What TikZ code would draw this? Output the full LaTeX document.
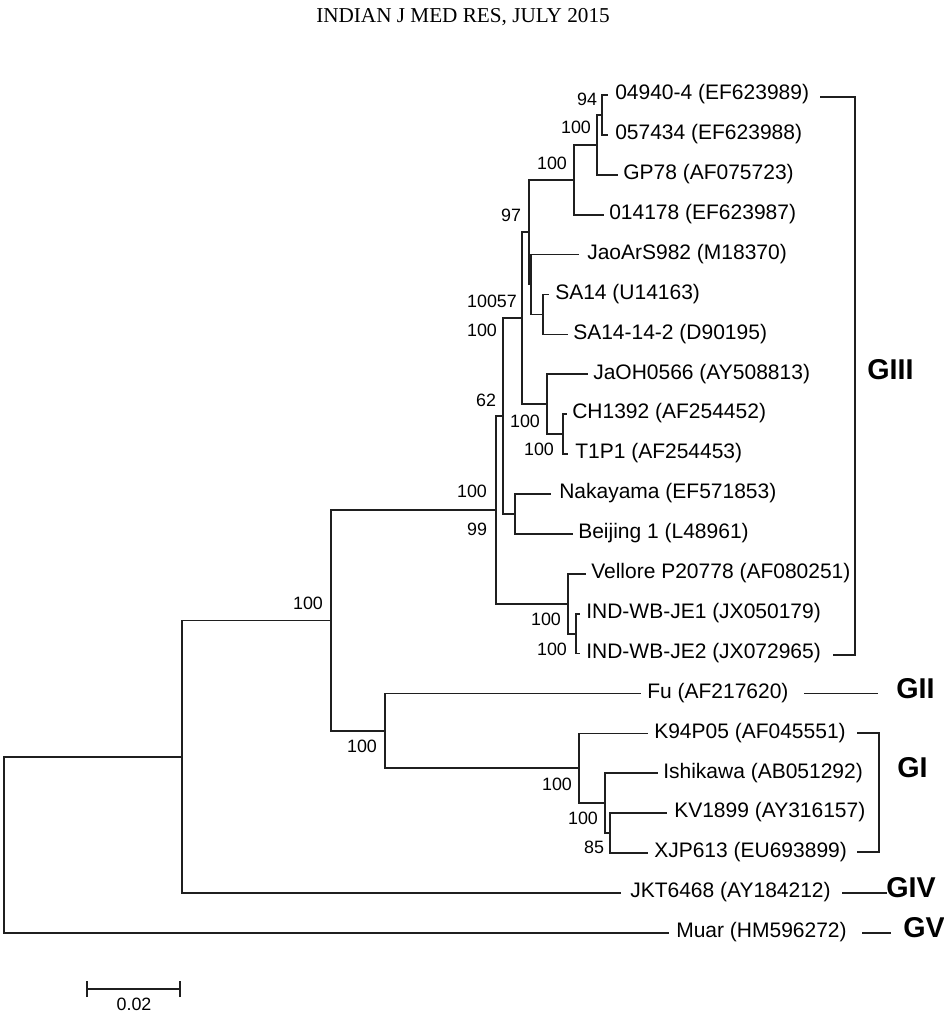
\documentclass[tikz,border=0pt]{standalone}
\usepackage{fontspec}
\setmainfont{Liberation Sans}
\newfontfamily\hdrserif{Liberation Serif}
\newcommand{\tipfont}{\fontsize{15.75pt}{18pt}\selectfont}
\newcommand{\bsfont}{\fontsize{13.4pt}{15pt}\selectfont}
\newcommand{\grpfont}{\fontsize{21.5pt}{24pt}\selectfont\bfseries}
\newcommand{\hdrfont}{\hdrserif\fontsize{15.9pt}{18pt}\selectfont}
\begin{document}
\begin{tikzpicture}[x=0.75pt,y=-0.75pt,
  br/.style={line width=1.25pt, black!88, line cap=rect},
  tip/.style={anchor=west, inner sep=0pt, text height=0.716em, text depth=0pt, font=\tipfont},
  bs/.style={inner sep=0pt, text height=0.716em, text depth=0pt, font=\bsfont},
  grp/.style={anchor=west, inner sep=0pt, text height=0.716em, text depth=0pt, font=\grpfont}]
\useasboundingbox (0,0) rectangle (944,1016);
\fill[white] (0,0) rectangle (944,1016);

% header
\node[inner sep=0pt, font=\hdrfont] (hdr) at (463,17) {INDIAN J MED RES, JULY 2015};

% tip branch ends
\coordinate (e1) at (607,95.0);
\coordinate (e2) at (607,134.9);
\coordinate (e3) at (617,174.8);
\coordinate (e4) at (603,214.7);
\coordinate (e5) at (578,254.6);
\coordinate (e6) at (548,294.5);
\coordinate (e7) at (567,334.4);
\coordinate (e8) at (587,374.3);
\coordinate (e9) at (566,414.2);
\coordinate (e10) at (567,454.1);
\coordinate (e11) at (550,494.0);
\coordinate (e12) at (572,533.9);
\coordinate (e13) at (585,573.8);
\coordinate (e14) at (579,613.7);
\coordinate (e15) at (579,653.6);
\coordinate (e16) at (640,693.5);
\coordinate (e17) at (647,733.4);
\coordinate (e18) at (657,773.3);
\coordinate (e19) at (666,813.2);
\coordinate (e20) at (647,853.1);
\coordinate (e21) at (620,893.0);
\coordinate (e22) at (668,932.9);

% tip labels
\node[tip] (t1) at (615,95.0) {04940-4 (EF623989)};
\node[tip] (t2) at (615,134.9) {057434 (EF623988)};
\node[tip] (t3) at (623,174.8) {GP78 (AF075723)};
\node[tip] (t4) at (609,214.7) {014178 (EF623987)};
\node[tip] (t5) at (587,254.6) {JaoArS982 (M18370)};
\node[tip] (t6) at (555,294.5) {SA14 (U14163)};
\node[tip] (t7) at (573,334.4) {SA14-14-2 (D90195)};
\node[tip] (t8) at (593,374.3) {JaOH0566 (AY508813)};
\node[tip] (t9) at (572,414.2) {CH1392 (AF254452)};
\node[tip] (t10) at (575,454.1) {T1P1 (AF254453)};
\node[tip] (t11) at (559,494.0) {Nakayama (EF571853)};
\node[tip] (t12) at (578,533.9) {Beijing 1 (L48961)};
\node[tip] (t13) at (591,573.8) {Vellore P20778 (AF080251)};
\node[tip] (t14) at (586,613.7) {IND-WB-JE1 (JX050179)};
\node[tip] (t15) at (586,653.6) {IND-WB-JE2 (JX072965)};
\node[tip] (t16) at (647,693.5) {Fu (AF217620)};
\node[tip] (t17) at (654,733.4) {K94P05 (AF045551)};
\node[tip] (t18) at (663,773.3) {Ishikawa (AB051292)};
\node[tip] (t19) at (674,813.2) {KV1899 (AY316157)};
\node[tip] (t20) at (654,853.1) {XJP613 (EU693899)};
\node[tip] (t21) at (630,893.0) {JKT6468 (AY184212)};
\node[tip] (t22) at (676,932.9) {Muar (HM596272)};

% internal nodes
\coordinate (C) at (602,115.0);
\coordinate (D) at (597,144.9);
\coordinate (E) at (574,179.8);
\coordinate (SA) at (543,314.5);
\coordinate (G) at (531,284.5);
\coordinate (F) at (529,232.2);
\coordinate (CT) at (563,434.2);
\coordinate (H) at (547,404.2);
\coordinate (B) at (522,318.2);
\coordinate (NB) at (515,514.0);
\coordinate (A) at (503,416.1);
\coordinate (IND) at (576,633.7);
\coordinate (V) at (568,603.7);
\coordinate (G3) at (496,509.9);
\coordinate (K) at (610,833.2);
\coordinate (J) at (605,803.2);
\coordinate (I) at (579,768.3);
\coordinate (P) at (385,730.9);
\coordinate (Q) at (331,620.4);
\coordinate (R) at (182,756.7);
\coordinate (root) at (4,844.8);

% branches
\draw[br] (C) |- (e1);  \draw[br] (C) |- (e2);
\draw[br] (D) |- (C);   \draw[br] (D) |- (e3);
\draw[br] (E) |- (D);   \draw[br] (E) |- (e4);
\draw[br] (SA) |- (e6); \draw[br] (SA) |- (e7);
\draw[br] (G) |- (e5);  \draw[br] (G) |- (SA);
\draw[br] (F) |- (E);   \draw[br] (F) |- (G);
\draw[br] (CT) |- (e9); \draw[br] (CT) |- (e10);
\draw[br] (H) |- (e8);  \draw[br] (H) |- (CT);
\draw[br] (B) |- (F);   \draw[br] (B) |- (H);
\draw[br] (NB) |- (e11); \draw[br] (NB) |- (e12);
\draw[br] (A) |- (B);   \draw[br] (A) |- (NB);
\draw[br] (IND) |- (e14); \draw[br] (IND) |- (e15);
\draw[br] (V) |- (e13); \draw[br] (V) |- (IND);
\draw[br] (G3) |- (A);  \draw[br] (G3) |- (V);
\draw[br] (K) |- (e19); \draw[br] (K) |- (e20);
\draw[br] (J) |- (e18); \draw[br] (J) |- (K);
\draw[br] (I) |- (e17); \draw[br] (I) |- (J);
\draw[br] (P) |- (e16); \draw[br] (P) |- (I);
\draw[br] (Q) |- (G3);  \draw[br] (Q) |- (P);
\draw[br] (R) |- (Q);   \draw[br] (R) |- (e21);
\draw[br] (root) |- (R); \draw[br] (root) |- (e22);

% bootstrap values
\node[bs] (b1) at (587,101) {94};
\node[bs] (b2) at (576,129) {100};
\node[bs] (b3) at (552,165) {100};
\node[bs] (b4) at (511,217) {97};
\node[bs] (b5) at (492,303) {10057};
\node[bs] (b6) at (482,332) {100};
\node[bs] (b7) at (486,402) {62};
\node[bs] (b8) at (525,423) {100};
\node[bs] (b9) at (539,451) {100};
\node[bs] (b10) at (472,493) {100};
\node[bs] (b11) at (477,531) {99};
\node[bs] (b12) at (546,621) {100};
\node[bs] (b13) at (552,651) {100};
\node[bs] (b14) at (308,605) {100};
\node[bs] (b15) at (362,748) {100};
\node[bs] (b16) at (557,786) {100};
\node[bs] (b17) at (583,820) {100};
\node[bs] (b18) at (594,849) {85};

% group brackets
\coordinate (g3a) at (820,97);
\coordinate (g3b) at (855,97);
\coordinate (g3c) at (855,655);
\coordinate (g3d) at (833,655);
\draw[br, line cap=butt] (g3a) -- (g3b) -- (g3c) -- (g3d);
\node[grp] (lG3) at (867,375) {GIII};

\coordinate (g2a) at (805,693.5);
\coordinate (g2b) at (877,693.5);
\draw[br] (g2a) -- (g2b);
\node[grp] (lG2) at (896,693.5) {GII};

\coordinate (g1a) at (857,733);
\coordinate (g1b) at (879,733);
\coordinate (g1c) at (879,852);
\coordinate (g1d) at (857,852);
\draw[br, line cap=butt] (g1a) -- (g1b) -- (g1c) -- (g1d);
\node[grp] (lG1) at (897,773) {GI};

\coordinate (g4a) at (843,893);
\node[grp] (lG4) at (886,893) {GIV};
\draw[br] (g4a) -- (lG4.west);

\coordinate (g5a) at (863,933);
\coordinate (g5b) at (890,933);
\draw[br] (g5a) -- (g5b);
\node[grp] (lG5) at (903,933) {GV};

% scale bar
\coordinate (s1) at (87,989);
\coordinate (s2) at (180,989);
\draw[br, line cap=butt] (s1) -- (s2);
\draw[br, line cap=butt] ([yshift=-6]s1) -- ([yshift=6]s1);
\draw[br, line cap=butt] ([yshift=-6]s2) -- ([yshift=6]s2);
\node[bs] (sl) at (134,1006) {0.02};
\end{tikzpicture}
\end{document}
